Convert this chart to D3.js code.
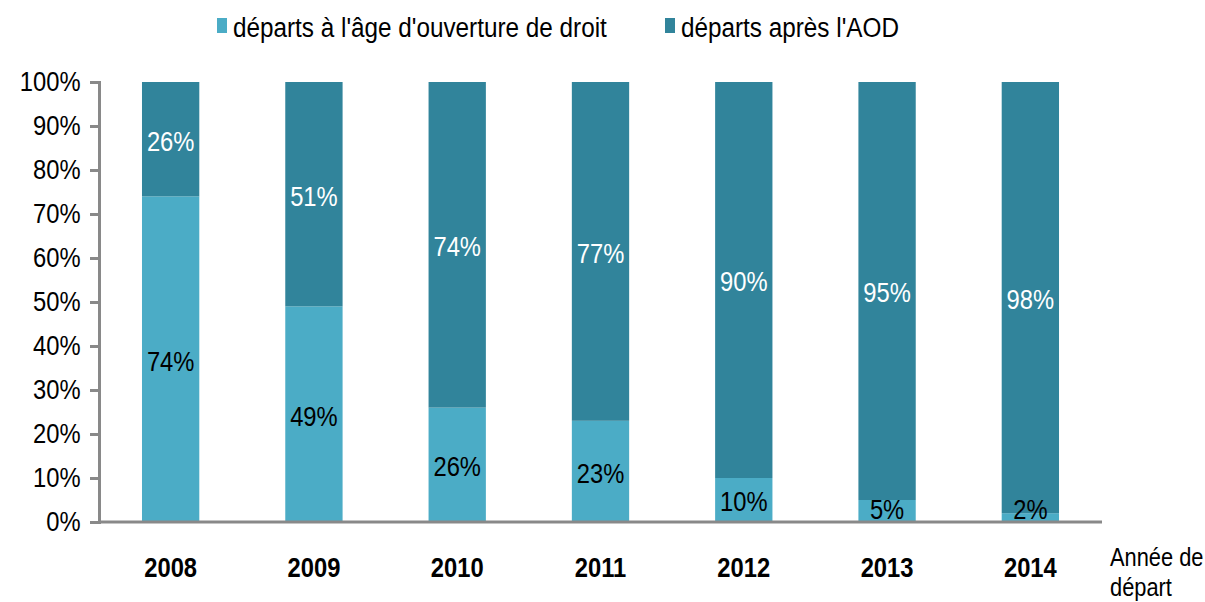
<!DOCTYPE html>
<html><head><meta charset="utf-8">
<script src="https://cdn.jsdelivr.net/npm/d3@7"></script>
<style>
html,body{margin:0;padding:0;background:#fff;}
svg{display:block;}
text{font-family:"Liberation Sans Narrow","Arial Narrow","Liberation Sans",sans-serif;}
</style></head><body>
<svg id="chart" width="1205" height="602"></svg>
<script>
const years = ["2008","2009","2010","2011","2012","2013","2014"];
const atAOD = [74, 49, 26, 23, 10, 5, 2];
const afterAOD = [26, 51, 74, 77, 90, 95, 98];
const seriesNames = ["départs à l'âge d'ouverture de droit", "départs après l'AOD"];
const yTicks = [0,10,20,30,40,50,60,70,80,90,100];
const colors = ["#4BACC6", "#31849B"];
const FONT = "'Liberation Sans', Arial, sans-serif";
const SX = 0.88;

const svg = d3.select("#chart");
const m = {left: 99, right: 1102, top: 82, bottom: 522};
const x = d3.scaleBand().domain(years).range([m.left, m.right]).paddingInner(0.6).paddingOuter(0.3);
const y = d3.scaleLinear().domain([0,100]).range([m.bottom, m.top]);

const rows = years.map((yr,i)=>({year:yr, a:atAOD[i], b:afterAOD[i]}));
const stack = d3.stack().keys(["a","b"])(rows);

const g = svg.append("g");
stack.forEach((layer,li)=>{
  g.selectAll(null).data(layer).enter().append("rect")
    .attr("x", d=>x(d.data.year))
    .attr("width", x.bandwidth())
    .attr("y", d=>y(d[1]))
    .attr("height", d=>y(d[0])-y(d[1]))
    .attr("fill", colors[li]);
});

// labels
stack.forEach((layer,li)=>{
  g.selectAll(null).data(layer).enter().append("text")
    .attr("transform", d=>{
      const cx = x(d.data.year)+x.bandwidth()/2;
      const cy = Math.min((y(d[0])+y(d[1]))/2, m.bottom-14);
      return `translate(${cx},${cy}) scale(${SX},1)`;
    })
    .attr("dy","0.42em")
    .attr("text-anchor","middle")
    .attr("font-family", FONT)
    .attr("font-size", 27)
    .attr("fill", li===0 ? "#000" : "#fff")
    .text(d=>(d[1]-d[0])+"%");
});

// y axis
const yAxis = d3.axisLeft(y).tickValues(yTicks).tickFormat(d=>d+"%").tickSize(9).tickPadding(12);
const ya = svg.append("g").attr("transform",`translate(${m.left},0)`).call(yAxis);
ya.select(".domain").attr("stroke","#898989").attr("stroke-width",3);
ya.selectAll(".tick line").attr("stroke","#898989").attr("stroke-width",3);
ya.selectAll(".tick text").attr("font-size",27).attr("fill","#000")
  .attr("font-family",FONT).attr("transform",`scale(${SX},1)`);

// x axis
const xAxis = d3.axisBottom(x).tickSize(0).tickPadding(36);
const xa = svg.append("g").attr("transform",`translate(0,${m.bottom})`).call(xAxis);
xa.select(".domain").attr("stroke","#898989").attr("stroke-width",3).attr("d",`M${m.left-1},0H${m.right}`);
xa.selectAll(".tick text").attr("font-size",27).attr("font-weight","bold").attr("fill","#000")
  .attr("font-family",FONT).attr("transform",`scale(${SX},1)`);

// x axis title
const t = svg.append("text").attr("transform","translate(1110,566) scale(0.84,1)")
  .attr("font-size",26).attr("fill","#000").attr("font-family",FONT);
t.append("tspan").attr("x",0).text("Année de");
t.append("tspan").attr("x",0).attr("dy",30).text("départ");

// legend
const legendX = [217, 665];
seriesNames.forEach((n,i)=>{
  svg.append("rect").attr("x",legendX[i]).attr("y",18).attr("width",10).attr("height",15).attr("fill",colors[i]);
  svg.append("text").attr("transform",`translate(${legendX[i]+16},37) scale(0.9,1)`)
    .attr("font-size",27).attr("fill","#000").attr("font-family",FONT).text(n);
});
</script>
</body></html>
